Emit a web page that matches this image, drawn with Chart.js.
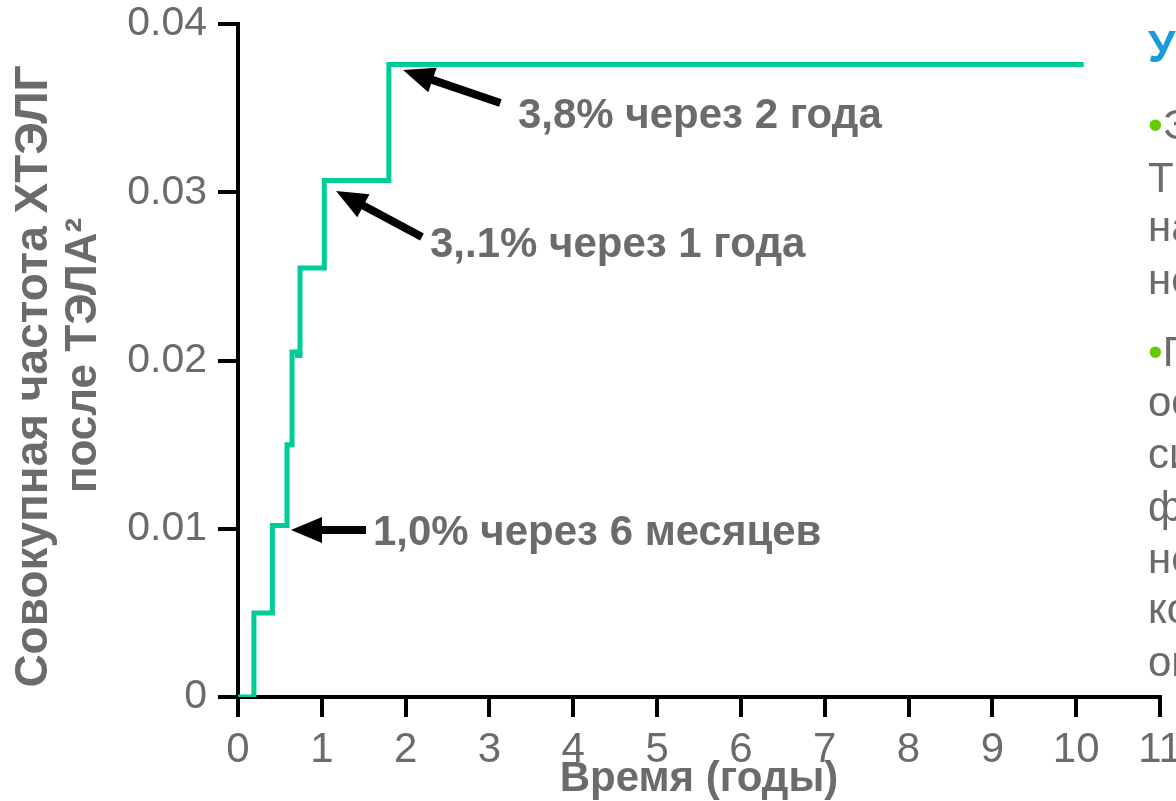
<!DOCTYPE html>
<html lang="ru">
<head>
<meta charset="utf-8">
<script src="https://cdn.jsdelivr.net/npm/chart.js@4.4.1/dist/chart.umd.min.js"></script>
<style>
  html, body { margin: 0; padding: 0; background: #fff; overflow: hidden; }
  #wrap { position: relative; width: 1176px; height: 801px; overflow: hidden; }
  #chart { position: absolute; left: 0; top: 0; }
  .side {
    position: absolute; left: 1148px; white-space: nowrap;
    font-family: "Liberation Sans", Arial, sans-serif;
    font-size: 42px; line-height: 42px; color: #6b6b6b;
  }
  .side.head { color: #1a9bd7; font-weight: bold; font-size: 44px; }
  .dot { color: #66cc00; }
</style>
</head>
<body>
<div id="wrap">
  <canvas id="chart" width="1176" height="801"></canvas>
  <div class="side head" style="top:26px">Учтите:</div>
  <div class="side" style="top:104px"><span class="dot">•</span>Это число может быть</div>
  <div class="side" style="top:157px">ТЭЛА-пациентов</div>
  <div class="side" style="top:206px">на самом деле</div>
  <div class="side" style="top:259px">недооценено</div>
  <div class="side" style="top:331px"><span class="dot">•</span>Группа пациентов</div>
  <div class="side" style="top:381px">острой ТЭЛА</div>
  <div class="side" style="top:433px">сильной</div>
  <div class="side" style="top:486px">физической</div>
  <div class="side" style="top:538px">нетерпимостью</div>
  <div class="side" style="top:588px">которых</div>
  <div class="side" style="top:641px">определяют</div>
</div>
<script>
document.addEventListener("DOMContentLoaded", function () {
  // Step data (years, cumulative incidence)
  var years = [0, 0.19, 0.41, 0.585, 0.645, 0.71, 0.74, 1.03, 1.80, 10.09];
  var incidence = [0, 0.0050, 0.0102, 0.0150, 0.0205, 0.0203, 0.0255, 0.0307, 0.0376, 0.0376];
  var xTicks = [0, 1, 2, 3, 4, 5, 6, 7, 8, 9, 10, 11];
  var yTicks = [0, 0.01, 0.02, 0.03, 0.04];
  var noteLabels = ["3,8% через 2 года", "3,.1% через 1 года", "1,0% через 6 месяцев"];
  var yTitleLines = ["Совокупная частота ХТЭЛГ", "после ТЭЛА²"];

  // where each arrow points and where its label sits, in data units
  var notes = [
    { tip: [1.97, 0.03727], tail: [3.13, 0.0353], at: [3.34, 0.03382] },
    { tip: [1.17, 0.03007], tail: [2.195, 0.02734], at: [2.29, 0.02615] },
    { tip: [0.632, 0.00993], tail: [1.527, 0.00993], at: [1.61, 0.00903] },
  ];

  var family = '"Liberation Sans", Arial, sans-serif';
  var grey = "#6b6b6b";

  var notesPlugin = {
    id: "notes",
    afterDatasetsDraw: function (chart) {
      var ctx = chart.ctx;
      var x = chart.scales.x, y = chart.scales.y;
      ctx.save();
      notes.forEach(function (n, i) {
        var tx = x.getPixelForValue(n.tip[0]), ty = y.getPixelForValue(n.tip[1]);
        var sx = x.getPixelForValue(n.tail[0]), sy = y.getPixelForValue(n.tail[1]);
        var ang = Math.atan2(ty - sy, tx - sx);
        var hl = 31, hw = 13;
        var bx = tx - hl * Math.cos(ang), by = ty - hl * Math.sin(ang);
        ctx.strokeStyle = "#000";
        ctx.lineWidth = 8;
        ctx.beginPath();
        ctx.moveTo(sx, sy);
        ctx.lineTo(bx + 4 * Math.cos(ang), by + 4 * Math.sin(ang));
        ctx.stroke();
        ctx.fillStyle = "#000";
        ctx.beginPath();
        ctx.moveTo(tx, ty);
        ctx.lineTo(bx + hw * Math.sin(ang), by - hw * Math.cos(ang));
        ctx.lineTo(bx - hw * Math.sin(ang), by + hw * Math.cos(ang));
        ctx.closePath();
        ctx.fill();
        ctx.font = "bold 42px " + family;
        ctx.fillStyle = grey;
        ctx.textBaseline = "alphabetic";
        ctx.textAlign = "left";
        ctx.fillText(noteLabels[i], x.getPixelForValue(n.at[0]), y.getPixelForValue(n.at[1]));
      });
      ctx.restore();
    },
  };

  // two-line rotated y title, the lines are not centred on each other in the picture
  var yTitlePlugin = {
    id: "yTitle",
    afterDraw: function (chart) {
      var ctx = chart.ctx;
      var mid = (chart.chartArea.top + chart.chartArea.bottom) / 2;
      ctx.save();
      ctx.fillStyle = grey;
      ctx.textAlign = "center";
      ctx.textBaseline = "middle";
      ctx.translate(34.5, mid + 16);
      ctx.rotate(-Math.PI / 2);
      ctx.font = "bold 46px " + family;
      ctx.fillText(yTitleLines[0], 0, 0);
      ctx.font = "bold 44px " + family;
      ctx.fillText(yTitleLines[1], 21, 49);
      ctx.restore();
    },
  };

  var ctx = document.getElementById("chart").getContext("2d");
  new Chart(ctx, {
    type: "line",
    data: {
      datasets: [
        {
          label: "ХТЭЛГ",
          data: years.map(function (v, i) { return { x: v, y: incidence[i] }; }),
          borderColor: "#00cc99",
          borderWidth: 5,
          pointRadius: 0,
          stepped: true,
          fill: false,
        },
      ],
    },
    options: {
      responsive: false,
      animation: false,
      layout: { padding: { top: 24, right: 16, left: 0, bottom: 0 } },
      plugins: { legend: { display: false }, tooltip: { enabled: false } },
      scales: {
        x: {
          type: "linear",
          min: 0,
          max: 11,
          z: 1,
          afterBuildTicks: function (s) { s.ticks = xTicks.map(function (v) { return { value: v }; }); },
          afterFit: function (s) { s.height = 104; s.paddingLeft = 0; s.paddingRight = 0; },
          ticks: { color: grey, font: { family: family, size: 42 }, padding: 8, maxRotation: 0, autoSkip: false },
          grid: { drawOnChartArea: false, drawTicks: true, tickLength: 20, color: "#000", lineWidth: 4 },
          border: { color: "#000", width: 4 },
          title: {
            display: true,
            text: "Время (годы)",
            color: grey,
            font: { family: family, size: 42, weight: "bold", lineHeight: 1 },
            padding: { top: 0, bottom: 1 },
          },
        },
        y: {
          min: 0,
          max: 0.04,
          afterBuildTicks: function (s) { s.ticks = yTicks.map(function (v) { return { value: v }; }); },
          afterFit: function (s) { s.width = 238; s.paddingTop = 0; s.paddingBottom = 0; },
          ticks: { color: grey, font: { family: family, size: 41 }, padding: 11 },
          grid: { drawOnChartArea: false, drawTicks: true, tickLength: 20, color: "#000", lineWidth: 4 },
          border: { color: "#000", width: 4 },
          title: { display: false },
        },
      },
    },
    plugins: [notesPlugin, yTitlePlugin],
  });
});
</script>
</body>
</html>
